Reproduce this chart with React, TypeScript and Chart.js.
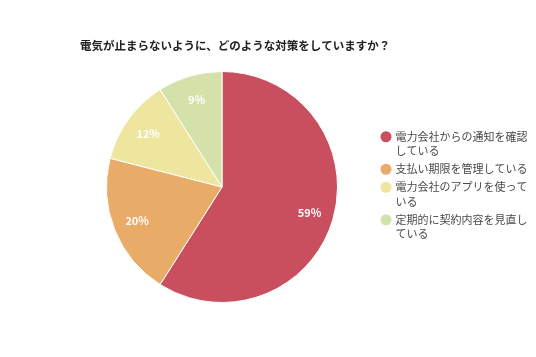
import { useEffect, useRef } from "react";
import { Chart, registerables } from "chart.js";

Chart.register(...registerables);

const titleText = "電気が止まらないように、どのような対策をしていますか？";
const categories: string[][] = [
  ["電力会社からの通知を確認", "している"],
  ["支払い期限を管理している"],
  ["電力会社のアプリを使って", "いる"],
  ["定期的に契約内容を見直し", "ている"],
];
const values = [59, 20, 12, 9];
const colors = ["#C94E5E", "#E8AB68", "#EEE59F", "#D4E1A9"];

const FONT = "'Noto Sans CJK JP', 'Noto Sans', sans-serif";

const pctLabels = {
  id: "pctLabels",
  afterDatasetsDraw(chart: any) {
    const ctx = chart.ctx;
    const meta = chart.getDatasetMeta(0);
    const data = chart.data.datasets[0].data as number[];
    const total = data.reduce((a, b) => a + b, 0);
    ctx.save();
    ctx.fillStyle = "#ffffff";
    ctx.font = `bold 11px ${FONT}`;
    ctx.textAlign = "center";
    ctx.textBaseline = "middle";
    meta.data.forEach((arc: any, i: number) => {
      const p = arc.getProps(["x", "y", "startAngle", "endAngle", "outerRadius"], true);
      const mid = (p.startAngle + p.endAngle) / 2;
      const r = p.outerRadius * 0.79;
      const pct = Math.round((data[i] / total) * 100);
      ctx.fillText(pct + "%", p.x + Math.cos(mid) * r, p.y + Math.sin(mid) * r);
    });
    ctx.restore();
  },
};

// Title drawn on the canvas (the built-in title would be squeezed by the side padding)
const topTitle = {
  id: "topTitle",
  afterDraw(chart: any) {
    const ctx = chart.ctx;
    ctx.save();
    ctx.font = `bold 11.5px ${FONT}`;
    ctx.fillStyle = "#222222";
    ctx.textAlign = "left";
    ctx.textBaseline = "middle";
    ctx.fillText(titleText, 80, 46);
    ctx.restore();
  },
};

// Custom legend drawn on the canvas to the right of the pie
const sideLegend = {
  id: "sideLegend",
  afterDraw(chart: any) {
    const ctx = chart.ctx;
    const labels = chart.data.labels as string[][];
    const bg = chart.data.datasets[0].backgroundColor as string[];
    const lineH = 14.5;
    const gap = 3.5;
    const totalH = labels.reduce((s, l) => s + l.length * lineH, 0) + gap * (labels.length - 1);
    const centerY = 185.5;
    let y = centerY - totalH / 2 + lineH / 2;
    const circleX = chart.chartArea.right + 22;
    const textX = circleX + 9.5;
    ctx.save();
    ctx.font = `11px ${FONT}`;
    ctx.textAlign = "left";
    ctx.textBaseline = "middle";
    labels.forEach((lines, i) => {
      ctx.fillStyle = bg[i];
      ctx.beginPath();
      ctx.arc(circleX, y, 5.5, 0, Math.PI * 2);
      ctx.fill();
      ctx.fillStyle = "#4a4a4a";
      lines.forEach((t, j) => {
        ctx.fillText(t, textX, y + j * lineH);
      });
      y += lines.length * lineH + gap;
    });
    ctx.restore();
  },
};

export default function App() {
  const ref = useRef<HTMLCanvasElement | null>(null);
  useEffect(() => {
    document.body.style.margin = "0";
    if (!ref.current) return;
    const chart = new Chart(ref.current, {
      type: "pie",
      data: {
        labels: categories as any,
        datasets: [
          {
            data: values,
            backgroundColor: colors,
            borderColor: "#ffffff",
            borderWidth: 1,
          },
        ],
      },
      options: {
        animation: false,
        responsive: false,
        layout: { padding: { left: 80, right: 172, top: 71, bottom: 54 } },
        plugins: {
          title: { display: false },
          legend: { display: false },
          tooltip: { enabled: false },
        },
      },
      plugins: [pctLabels, topTitle, sideLegend],
    });
    return () => chart.destroy();
  }, []);
  return <canvas ref={ref} width={536} height={357} style={{ display: "block" }} />;
}
